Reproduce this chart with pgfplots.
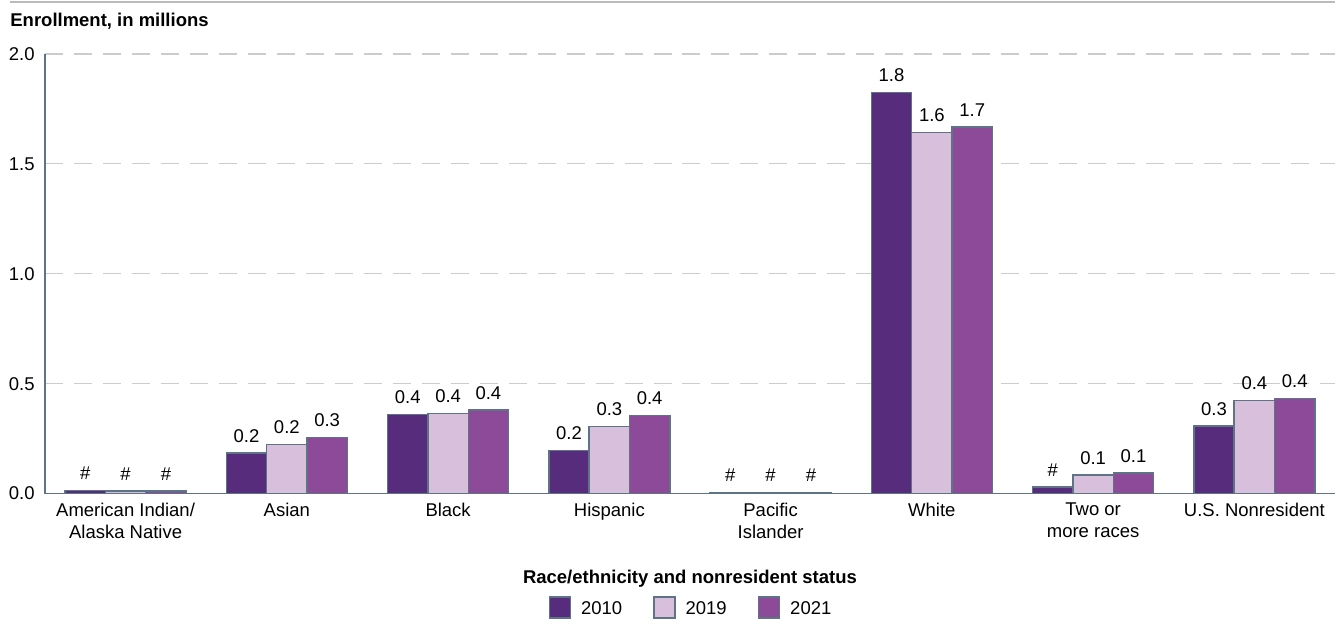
\documentclass[border=0pt]{standalone}
\usepackage{fontspec}
\setmainfont{Liberation Sans}
\usepackage{pgfplots}
\pgfplotsset{compat=1.18}

\definecolor{c2010}{HTML}{572C7C}
\definecolor{c2019}{HTML}{D8BFDC}
\definecolor{c2021}{HTML}{8C4A98}
\definecolor{edge}{HTML}{5F7386}
\definecolor{gridgray}{HTML}{CCCCCC}
\definecolor{rulegray}{HTML}{BBBBBB}

\newcommand{\chartfont}{\fontsize{9.25}{11}\selectfont}

\pgfplotsset{
  legbox/.style={legend image code/.code={%
    \draw[##1, draw=edge, line width=0.75pt] (0pt,-5.25pt) rectangle (10.5pt,5.25pt);}},
}

\begin{document}
\begin{tikzpicture}[font=\chartfont]
\begin{axis}[
  scale only axis,
  width=645.5pt, height=220pt,
  xmin=-0.5, xmax=7.5, ymin=0, ymax=2,
  ybar, bar width=0.25,
  axis x line*=bottom, axis y line*=left,
  axis line style={draw=edge, line width=0.75pt, -},
  major tick length=0pt,
  xtick={0,...,7},
  xticklabels={American Indian/\\Alaska Native, Asian, Black, Hispanic,
    Pacific\\Islander, White, Two or\\more races, U.S. Nonresident},
  xticklabel style={align=center, inner sep=0pt, yshift=-4.5pt, font=\chartfont},
  ytick={0,0.5,1,1.5,2},
  yticklabel style={inner sep=0pt, xshift=-5pt, font=\chartfont,
    /pgf/number format/.cd, fixed, fixed zerofill, precision=1, assume math mode=true},
  ymajorgrids,
  major grid style={draw=gridgray, line width=0.6pt, dash pattern=on 9pt off 5.5pt},
  xlabel={Race/ethnicity and nonresident status},
  xlabel style={at={(axis description cs:0.5,0)}, anchor=base, yshift=-45pt,
    font=\bfseries\chartfont},
  nodes near coords,
  point meta=explicit symbolic,
  every node near coord/.append style={inner sep=0pt, yshift=5pt, font=\chartfont, text=black},
  legend columns=3,
  legend style={draw=none, at={(0.5,0)}, anchor=center, yshift=-57pt,
    font=\chartfont, inner sep=0pt,
    /tikz/every even column/.append style={column sep=15.5pt},
    nodes={inner sep=0pt, text depth=0pt}},
  legend cell align=left,
]
% 2010
\addplot[fill=c2010, draw=edge, line width=0.75pt, bar shift=-0.25, legbox] coordinates {
  (0,0.014) [\#] (1,0.185) [0.2] (2,0.359) [0.4] (3,0.197) [0.2]
  (4,0.006) [\#] (5,1.824) [1.8] (6,0.030) [\#] (7,0.308) [0.3]
};
% 2019
\addplot[fill=c2019, draw=edge, line width=0.75pt, bar shift=0, legbox] coordinates {
  (0,0.012) [\#] (1,0.223) [0.2] (2,0.365) [0.4] (3,0.305) [0.3]
  (4,0.006) [\#] (5,1.642) [1.6] (6,0.085) [0.1] (7,0.424) [0.4]
};
% 2021
\addplot[fill=c2021, draw=edge, line width=0.75pt, bar shift=0.25, legbox] coordinates {
  (0,0.012) [\#] (1,0.255) [0.3] (2,0.380) [0.4] (3,0.356) [0.4]
  (4,0.006) [\#] (5,1.667) [1.7] (6,0.094) [0.1] (7,0.432) [0.4]
};
\legend{\hspace{5pt}2010, \hspace{5pt}2019, \hspace{5pt}2021}
\end{axis}

% heading rule and y-axis title
\draw[rulegray, line width=1pt]
  ([shift={(-17.5pt,26pt)}]current axis.north west) -- ([shift={(0pt,26pt)}]current axis.north east);
\node[anchor=base west, inner sep=0pt, font=\bfseries\chartfont]
  at ([shift={(-17.5pt,13.5pt)}]current axis.north west) {Enrollment, in millions};

% page extent
\path ([shift={(-22.5pt,-66.5pt)}]current axis.south west)
  rectangle ([shift={(0pt,27pt)}]current axis.north east);
\end{tikzpicture}
\end{document}
